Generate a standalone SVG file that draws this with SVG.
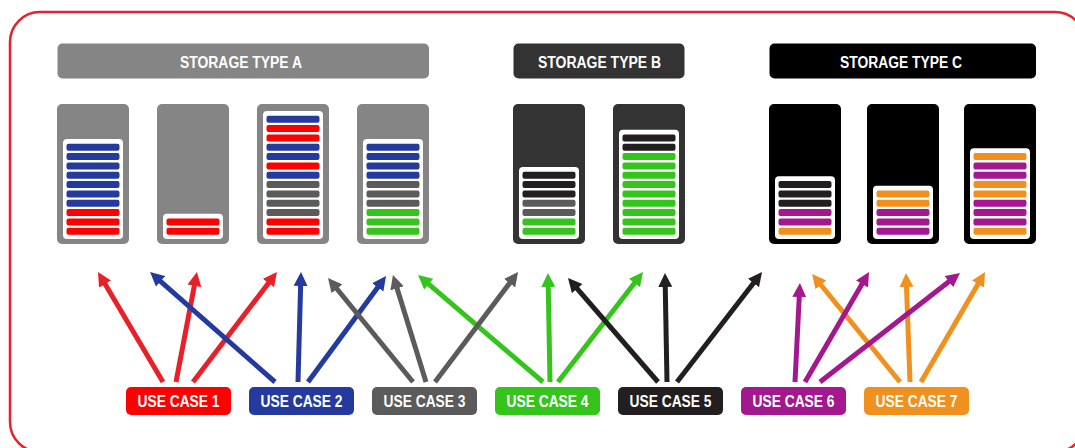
<svg xmlns="http://www.w3.org/2000/svg" width="1075" height="448" viewBox="0 0 1075 448">
<style>
.frame{fill:#fff;stroke:#e8202a;stroke-width:2.5}
.hdr{font-family:"Liberation Sans",Arial,sans-serif;font-weight:bold;font-size:16px;fill:#fff;text-anchor:middle}
.lbl{font-family:"Liberation Sans",Arial,sans-serif;font-weight:bold;font-size:16px;fill:#fff;text-anchor:middle}
.panel{fill:#fff}
.b{fill:#253a9e}.r{fill:#ff0000}.g{fill:#5a5b5a}.n{fill:#35c41b}.k{fill:#231f20}.p{fill:#a3188f}.o{fill:#f0901e}
.bar rect{width:53px;height:7px}
.arr{fill:none;stroke-width:5;stroke-linecap:butt}
</style>
<defs>
<marker id="mR" viewBox="0 0 10 10" refX="2.14" refY="5" markerWidth="2.8" markerHeight="3" orient="auto"><path d="M0,0L10,5L0,10z" fill="#e8202a"/></marker>
<marker id="mB" viewBox="0 0 10 10" refX="2.14" refY="5" markerWidth="2.8" markerHeight="3" orient="auto"><path d="M0,0L10,5L0,10z" fill="#253a9e"/></marker>
<marker id="mG" viewBox="0 0 10 10" refX="2.14" refY="5" markerWidth="2.8" markerHeight="3" orient="auto"><path d="M0,0L10,5L0,10z" fill="#5a5b5a"/></marker>
<marker id="mN" viewBox="0 0 10 10" refX="2.14" refY="5" markerWidth="2.8" markerHeight="3" orient="auto"><path d="M0,0L10,5L0,10z" fill="#35c41b"/></marker>
<marker id="mK" viewBox="0 0 10 10" refX="2.14" refY="5" markerWidth="2.8" markerHeight="3" orient="auto"><path d="M0,0L10,5L0,10z" fill="#231f20"/></marker>
<marker id="mP" viewBox="0 0 10 10" refX="2.14" refY="5" markerWidth="2.8" markerHeight="3" orient="auto"><path d="M0,0L10,5L0,10z" fill="#a3188f"/></marker>
<marker id="mO" viewBox="0 0 10 10" refX="2.14" refY="5" markerWidth="2.8" markerHeight="3" orient="auto"><path d="M0,0L10,5L0,10z" fill="#f0901e"/></marker>
</defs>
<rect class="frame" x="10" y="12" width="1075" height="440" rx="30"/>

<g id="header-a"><rect x="57.5" y="43.5" width="371.5" height="35" rx="5" fill="#858585"/><text class="hdr" x="241" y="68" textLength="122" lengthAdjust="spacingAndGlyphs">STORAGE TYPE A</text></g>
<g id="header-b"><rect x="513.5" y="43.5" width="171" height="35" rx="5" fill="#333"/><text class="hdr" x="599.5" y="68" textLength="123" lengthAdjust="spacingAndGlyphs">STORAGE TYPE B</text></g>
<g id="header-c"><rect x="769.5" y="43.5" width="266.5" height="35" rx="5" fill="#000"/><text class="hdr" x="901" y="68" textLength="122" lengthAdjust="spacingAndGlyphs">STORAGE TYPE C</text></g>

<g id="storage-a1" transform="translate(57,0)"><rect x="0" y="104" width="72" height="140" rx="5" fill="#858585"/><rect class="panel" x="6" y="139" width="60" height="100" rx="4"/>
<g class="bar"><rect class="b" x="9.5" y="143.7" rx="2"/><rect class="b" x="9.5" y="153" rx="2"/><rect class="b" x="9.5" y="162.4" rx="2"/><rect class="b" x="9.5" y="171.7" rx="2"/><rect class="b" x="9.5" y="181" rx="2"/><rect class="b" x="9.5" y="190.4" rx="2"/><rect class="b" x="9.5" y="199.7" rx="2"/><rect class="r" x="9.5" y="209" rx="2"/><rect class="r" x="9.5" y="218.4" rx="2"/><rect class="r" x="9.5" y="227.7" rx="2"/></g></g>

<g id="storage-a2" transform="translate(157,0)"><rect x="0" y="104" width="72" height="140" rx="5" fill="#858585"/><rect class="panel" x="6" y="213.7" width="60" height="25.3" rx="4"/>
<g class="bar"><rect class="r" x="9.5" y="218.4" rx="2"/><rect class="r" x="9.5" y="227.7" rx="2"/></g></g>

<g id="storage-a3" transform="translate(257,0)"><rect x="0" y="104" width="72" height="140" rx="5" fill="#858585"/><rect class="panel" x="6" y="111" width="60" height="128" rx="4"/>
<g class="bar"><rect class="b" x="9.5" y="115.7" rx="2"/><rect class="r" x="9.5" y="125" rx="2"/><rect class="r" x="9.5" y="134.4" rx="2"/><rect class="b" x="9.5" y="143.7" rx="2"/><rect class="b" x="9.5" y="153" rx="2"/><rect class="r" x="9.5" y="162.4" rx="2"/><rect class="b" x="9.5" y="171.7" rx="2"/><rect class="g" x="9.5" y="181" rx="2"/><rect class="g" x="9.5" y="190.4" rx="2"/><rect class="g" x="9.5" y="199.7" rx="2"/><rect class="g" x="9.5" y="209" rx="2"/><rect class="r" x="9.5" y="218.4" rx="2"/><rect class="r" x="9.5" y="227.7" rx="2"/></g></g>

<g id="storage-a4" transform="translate(357,0)"><rect x="0" y="104" width="72" height="140" rx="5" fill="#858585"/><rect class="panel" x="6" y="139" width="60" height="100" rx="4"/>
<g class="bar"><rect class="b" x="9.5" y="143.7" rx="2"/><rect class="b" x="9.5" y="153" rx="2"/><rect class="b" x="9.5" y="162.4" rx="2"/><rect class="b" x="9.5" y="171.7" rx="2"/><rect class="g" x="9.5" y="181" rx="2"/><rect class="g" x="9.5" y="190.4" rx="2"/><rect class="g" x="9.5" y="199.7" rx="2"/><rect class="n" x="9.5" y="209" rx="2"/><rect class="n" x="9.5" y="218.4" rx="2"/><rect class="n" x="9.5" y="227.7" rx="2"/></g></g>

<g id="storage-b1" transform="translate(513,0)"><rect x="0" y="104" width="72" height="140" rx="5" fill="#333"/><rect class="panel" x="6" y="167" width="60" height="72" rx="4"/>
<g class="bar"><rect class="k" x="9.5" y="171.7" rx="2"/><rect class="k" x="9.5" y="181" rx="2"/><rect class="k" x="9.5" y="190.4" rx="2"/><rect class="g" x="9.5" y="199.7" rx="2"/><rect class="g" x="9.5" y="209" rx="2"/><rect class="n" x="9.5" y="218.4" rx="2"/><rect class="n" x="9.5" y="227.7" rx="2"/></g></g>

<g id="storage-b2" transform="translate(613,0)"><rect x="0" y="104" width="72" height="140" rx="5" fill="#333"/><rect class="panel" x="6" y="129.7" width="60" height="109.3" rx="4"/>
<g class="bar"><rect class="k" x="9.5" y="134.4" rx="2"/><rect class="k" x="9.5" y="143.7" rx="2"/><rect class="n" x="9.5" y="153" rx="2"/><rect class="n" x="9.5" y="162.4" rx="2"/><rect class="n" x="9.5" y="171.7" rx="2"/><rect class="n" x="9.5" y="181" rx="2"/><rect class="n" x="9.5" y="190.4" rx="2"/><rect class="n" x="9.5" y="199.7" rx="2"/><rect class="n" x="9.5" y="209" rx="2"/><rect class="n" x="9.5" y="218.4" rx="2"/><rect class="n" x="9.5" y="227.7" rx="2"/></g></g>

<g id="storage-c1" transform="translate(769,0)"><rect x="0" y="104" width="72" height="140" rx="5" fill="#000"/><rect class="panel" x="6" y="176.3" width="60" height="62.7" rx="4"/>
<g class="bar"><rect class="k" x="9.5" y="181" rx="2"/><rect class="k" x="9.5" y="190.4" rx="2"/><rect class="k" x="9.5" y="199.7" rx="2"/><rect class="p" x="9.5" y="209" rx="2"/><rect class="p" x="9.5" y="218.4" rx="2"/><rect class="o" x="9.5" y="227.7" rx="2"/></g></g>

<g id="storage-c2" transform="translate(867,0)"><rect x="0" y="104" width="72" height="140" rx="5" fill="#000"/><rect class="panel" x="6" y="185.7" width="60" height="53.3" rx="4"/>
<g class="bar"><rect class="o" x="9.5" y="190.4" rx="2"/><rect class="o" x="9.5" y="199.7" rx="2"/><rect class="p" x="9.5" y="209" rx="2"/><rect class="p" x="9.5" y="218.4" rx="2"/><rect class="p" x="9.5" y="227.7" rx="2"/></g></g>

<g id="storage-c3" transform="translate(964,0)"><rect x="0" y="104" width="72" height="140" rx="5" fill="#000"/><rect class="panel" x="6" y="148.3" width="60" height="90.7" rx="4"/>
<g class="bar"><rect class="o" x="9.5" y="153" rx="2"/><rect class="p" x="9.5" y="162.4" rx="2"/><rect class="p" x="9.5" y="171.7" rx="2"/><rect class="o" x="9.5" y="181" rx="2"/><rect class="o" x="9.5" y="190.4" rx="2"/><rect class="p" x="9.5" y="199.7" rx="2"/><rect class="p" x="9.5" y="209" rx="2"/><rect class="p" x="9.5" y="218.4" rx="2"/><rect class="o" x="9.5" y="227.7" rx="2"/></g></g>

<g id="connectors">
<g stroke="#35c41b" class="arr" marker-end="url(#mN)"><path d="M543,382L426.4,282.2"/><path d="M550,382L548.2,284"/><path d="M558,382L636.3,280.7"/></g>
<g stroke="#e8202a" class="arr" marker-end="url(#mR)"><path d="M163,382L103.6,281.5"/><path d="M176,382L194.9,282.8"/><path d="M193,382L270.3,280.7"/></g>
<g stroke="#253a9e" class="arr" marker-end="url(#mB)"><path d="M275,382L158.3,279.3"/><path d="M298,382L300.7,283"/><path d="M308,382L379.5,284.9"/></g>
<g stroke="#5a5b5a" class="arr" marker-end="url(#mG)"><path d="M413,382L335,286.5"/><path d="M426,382L396.2,285.5"/><path d="M435,382L511.4,280.8"/></g>
<g stroke="#231f20" class="arr" marker-end="url(#mK)"><path d="M658,382L575.2,286.3"/><path d="M667,382L665.2,284"/><path d="M677,382L755.3,280.7"/></g>
<g stroke="#f0901e" class="arr" marker-end="url(#mO)"><path d="M900,382L819,282.5"/><path d="M910,382L906.4,284"/><path d="M921,382L979.5,281.5"/></g>
<g stroke="#a3188f" class="arr" marker-end="url(#mP)"><path d="M795,382L799.4,294"/><path d="M805,382L863.5,281.5"/><path d="M820,382L951.3,279.8"/></g>
</g>

<g id="use-case-1"><rect x="126" y="387" width="105" height="28" rx="5" fill="#ff0000"/><text class="lbl" x="178.5" y="407" textLength="82" lengthAdjust="spacingAndGlyphs">USE CASE 1</text></g>
<g id="use-case-2"><rect x="249" y="387" width="105" height="28" rx="5" fill="#253a9e"/><text class="lbl" x="301.5" y="407" textLength="82" lengthAdjust="spacingAndGlyphs">USE CASE 2</text></g>
<g id="use-case-3"><rect x="372" y="387" width="105" height="28" rx="5" fill="#5a5b5a"/><text class="lbl" x="424.5" y="407" textLength="82" lengthAdjust="spacingAndGlyphs">USE CASE 3</text></g>
<g id="use-case-4"><rect x="495" y="387" width="105" height="28" rx="5" fill="#35c41b"/><text class="lbl" x="547.5" y="407" textLength="82" lengthAdjust="spacingAndGlyphs">USE CASE 4</text></g>
<g id="use-case-5"><rect x="618" y="387" width="105" height="28" rx="5" fill="#231f20"/><text class="lbl" x="670.5" y="407" textLength="82" lengthAdjust="spacingAndGlyphs">USE CASE 5</text></g>
<g id="use-case-6"><rect x="741" y="387" width="105" height="28" rx="5" fill="#a3188f"/><text class="lbl" x="793.5" y="407" textLength="82" lengthAdjust="spacingAndGlyphs">USE CASE 6</text></g>
<g id="use-case-7"><rect x="864" y="387" width="105" height="28" rx="5" fill="#f0901e"/><text class="lbl" x="916.5" y="407" textLength="82" lengthAdjust="spacingAndGlyphs">USE CASE 7</text></g>
</svg>
